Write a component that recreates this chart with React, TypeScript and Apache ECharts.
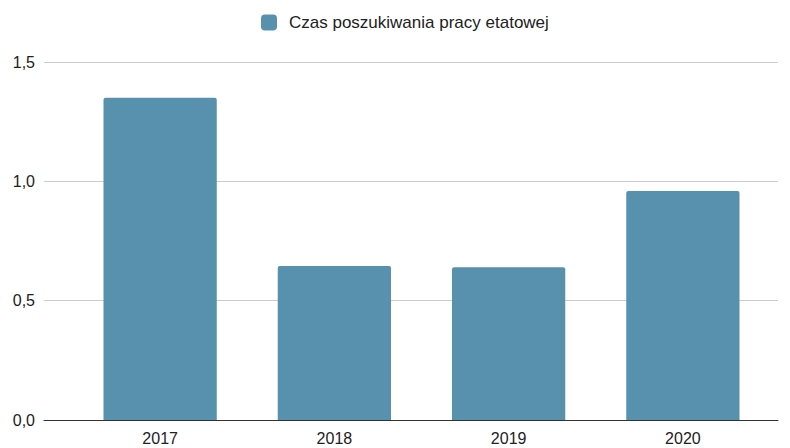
import React, { useEffect, useRef } from "react";
import * as echarts from "echarts";

const categories = ["2017", "2018", "2019", "2020"];
const seriesName = "Czas poszukiwania pracy etatowej";
const values = [1.35, 0.645, 0.64, 0.96];
const yTicks = [0, 0.5, 1.0, 1.5];

export default function App() {
  const ref = useRef<HTMLDivElement>(null);
  useEffect(() => {
    if (!ref.current) return;
    const chart = echarts.init(ref.current, undefined, { renderer: "svg" });
    const yMin = yTicks[0];
    const yMax = yTicks[yTicks.length - 1];
    chart.setOption({
      animation: false,
      backgroundColor: "#ffffff",
      textStyle: { fontFamily: "Liberation Sans, Arial, sans-serif" },
      legend: {
        top: 14,
        left: 261,
        itemWidth: 16,
        itemHeight: 16,
        icon: "roundRect",
        padding: 0,
        textStyle: { fontSize: 17, color: "#222222", padding: [0, 0, 0, 7] },
        data: [seriesName],
      },
      grid: [
        { left: 44, right: 12, top: 62, bottom: 28, containLabel: false },
        { left: 73, right: 20, top: 62, bottom: 28, containLabel: false },
      ],
      xAxis: [
        {
          type: "category",
          gridIndex: 0,
          data: categories,
          axisTick: { show: false },
          axisLabel: { show: false },
          axisLine: { lineStyle: { color: "#333333", width: 1 } },
          z: 5,
        },
        {
          type: "category",
          gridIndex: 1,
          data: categories,
          axisTick: { show: false },
          axisLine: { show: false },
          axisLabel: { fontSize: 16, color: "#222222", margin: 10 },
        },
      ],
      yAxis: [
        {
          type: "value",
          gridIndex: 0,
          min: yMin,
          max: yMax,
          interval: 0.5,
          axisLabel: {
            fontSize: 16,
            color: "#222222",
            margin: 9,
            formatter: (v: number) => v.toFixed(1).replace(".", ","),
          },
          splitLine: { lineStyle: { color: "#cccccc", width: 1 } },
          axisLine: { show: false },
          axisTick: { show: false },
        },
        {
          type: "value",
          gridIndex: 1,
          min: yMin,
          max: yMax,
          interval: 0.5,
          axisLabel: { show: false },
          splitLine: { show: false },
          axisLine: { show: false },
          axisTick: { show: false },
        },
      ],
      series: [
        {
          name: seriesName,
          type: "bar",
          xAxisIndex: 1,
          yAxisIndex: 1,
          data: values,
          barCategoryGap: "35%",
          itemStyle: { color: "#5891ae", borderRadius: [2, 2, 0, 0] },
        },
      ],
    });
    return () => chart.dispose();
  }, []);
  return (
    <div
      ref={ref}
      style={{ position: "fixed", left: 0, top: 0, width: 790, height: 448 }}
    />
  );
}
